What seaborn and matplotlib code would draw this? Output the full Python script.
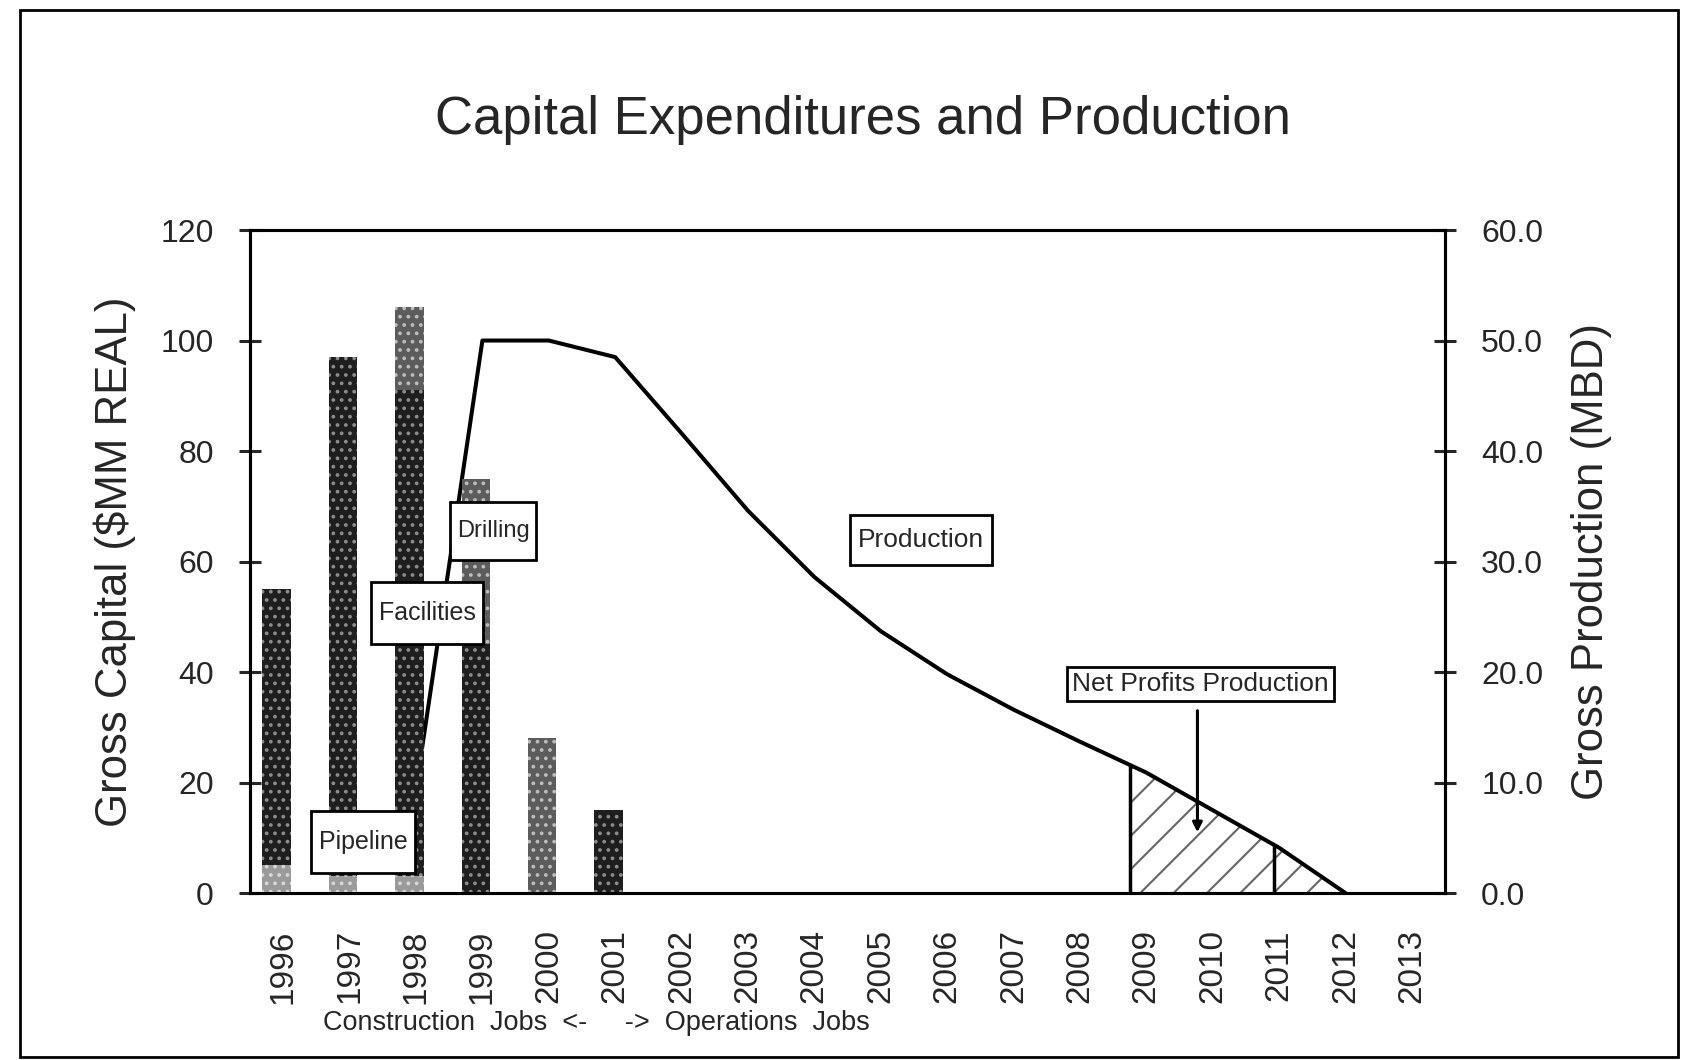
import numpy as np
import pandas as pd
import matplotlib.pyplot as plt
import seaborn as sns
from functools import partial
from matplotlib.patches import Rectangle
from matplotlib.path import Path

# ==========================
# DATA
# ==========================

years = [str(y) for y in range(1996, 2014)]

# gross capital, $MM real (stacked pieces)
capex_years = ["1996", "1997", "1998", "1999", "2000", "2001"]
pipeline = [5, 3, 3, 0, 0, 0]
facilities = [50, 94, 88, 45, 0, 15]
drilling = [0, 0, 15, 30, 28, 0]

# gross production, MBD
prod_years = ["1998", "1999", "2000", "2001", "2002", "2003", "2004", "2005",
              "2006", "2007", "2008", "2009", "2010", "2011", "2012"]
production = [9.4, 50.0, 50.0, 48.5, 41.6, 34.6, 28.6, 23.7,
              19.8, 16.6, 13.7, 10.9, 7.5, 4.1, 0.0]

# net profits window (category position)
npi_start = 12.75
npi_split = 14.92


def box_path(x0, y0, width, height, mutation_size, padx=0.3, pady=0.5):
    # square label box with separate horizontal / vertical padding
    px, py = padx * mutation_size, pady * mutation_size
    x0, y0 = x0 - px, y0 - py
    x1, y1 = x0 + width + 2 * px, y0 + height + 2 * py
    return Path([(x0, y0), (x1, y0), (x1, y1), (x0, y1), (x0, y0)], closed=True)


# ==========================
# STYLE
# ==========================

sns.set_style("white")
plt.rcParams["font.family"] = ["Liberation Sans", "DejaVu Sans"]
plt.rcParams["hatch.linewidth"] = 1.5

fig = plt.figure(figsize=(16.85, 10.6), dpi=100)
ax = fig.add_axes([0.1484, 0.1575, 0.7092, 0.6255])
ax2 = ax.twinx()
ax.set_zorder(ax2.get_zorder() + 1)
ax.patch.set_visible(False)

# ==========================
# BARS (stacked by overlaying cumulative totals)
# ==========================

df = pd.DataFrame({"year": capex_years, "pipeline": pipeline,
                   "facilities": facilities, "drilling": drilling})
df["fac_top"] = df["pipeline"] + df["facilities"]
df["total"] = df["fac_top"] + df["drilling"]
df["pos"] = [years.index(y) - 0.1 for y in capex_years]

layers = [("total", "#5c5c5c", "#bdbdbd"),
          ("fac_top", "#1e1e1e", "#8c8c8c"),
          ("pipeline", "#9a9a9a", "#d8d8d8")]
for col, face, dots in layers:
    sns.barplot(data=df, x="pos", y=col, native_scale=True, width=0.43,
                color=face, saturation=1, errorbar=None, ax=ax,
                hatch="..", edgecolor=dots, linewidth=0)

# ==========================
# PRODUCTION LINE
# ==========================

pos = np.array([years.index(y) for y in prod_years], dtype=float)
sns.lineplot(x=pos, y=production, ax=ax2, color="black", lw=2.9)

xs = np.linspace(npi_start, pos[-1], 200)
ys = np.interp(xs, pos, production)
ax2.fill_between(xs, 0, ys, facecolor="none", hatch="/", edgecolor="#666666", lw=0)
for xv in [npi_start, npi_split]:
    ax2.vlines(xv, 0, np.interp(xv, pos, production), color="black", lw=2.5)

# ==========================
# AXES
# ==========================

ax.set_xlim(-0.5, 17.5)
ax.set_ylim(0, 120)
ax2.set_ylim(0, 60)

ax.set_xticks(np.arange(-0.5, 18, 1))
ax.set_xticklabels([])
ax.set_xticks(np.arange(18), minor=True)
ax.set_xticklabels(years, minor=True, rotation=90, fontsize=24)
ax.tick_params(axis="x", which="major", direction="inout", length=20, width=2.2)
ax.tick_params(axis="x", which="minor", length=0, pad=26)

ax.set_yticks(np.arange(0, 121, 20))
ax.tick_params(axis="y", direction="inout", length=16, width=2.2, labelsize=23, pad=18)
ax2.set_yticks(np.arange(0, 61, 10))
ax2.set_yticklabels([f"{v:.1f}" for v in np.arange(0, 61, 10)])
ax2.tick_params(axis="y", direction="inout", length=16, width=2.2, labelsize=23, pad=18)

ax.set_xlabel("")
ax.set_ylabel("Gross Capital ($MM REAL)", fontsize=31.5, labelpad=18)
ax2.set_ylabel("Gross Production (MBD)", fontsize=31.5, labelpad=20)

for a in (ax, ax2):
    for s in a.spines.values():
        s.set_color("black")
        s.set_linewidth(2.2)
        s.set_visible(True)

# ==========================
# LABELS
# ==========================

tall = dict(boxstyle=partial(box_path, padx=0.3, pady=0.75),
            facecolor="white", edgecolor="black", lw=2)
mid = dict(boxstyle=partial(box_path, padx=0.3, pady=0.5),
           facecolor="white", edgecolor="black", lw=2)
thin = dict(boxstyle=partial(box_path, padx=0.2, pady=0.2),
            facecolor="white", edgecolor="black", lw=2)

ax.text(3.16, 65.5, "Drilling", fontsize=17, ha="center", va="center", bbox=tall, zorder=5)
ax.text(2.17, 50.7, "Facilities", fontsize=18, ha="center", va="center", bbox=tall, zorder=5)
ax.text(1.20, 9.2, "Pipeline", fontsize=18, ha="center", va="center", bbox=tall, zorder=5)
ax.text(9.6, 63.9, "Production", fontsize=19, ha="center", va="center", bbox=mid, zorder=5)
ax.text(13.82, 37.8, "Net Profits Production", fontsize=19, ha="center", va="center",
        bbox=thin, zorder=5)
ax.annotate("", xy=(13.77, 10.5), xytext=(13.77, 33.5),
            arrowprops=dict(arrowstyle="-|>", color="black", lw=2.2, mutation_scale=14))

fig.text(0.512, 0.887, "Capital Expenditures and Production", fontsize=38,
         ha="center", va="center")
fig.text(0.354, 0.035, "Construction  Jobs  <-     ->  Operations  Jobs", fontsize=19.5,
         ha="center", va="center")

fig.add_artist(Rectangle((0.012, 0.003), 0.984, 0.9877, transform=fig.transFigure,
                         fill=False, edgecolor="black", lw=2))

fig.savefig("out.png", dpi=100, facecolor="white")
